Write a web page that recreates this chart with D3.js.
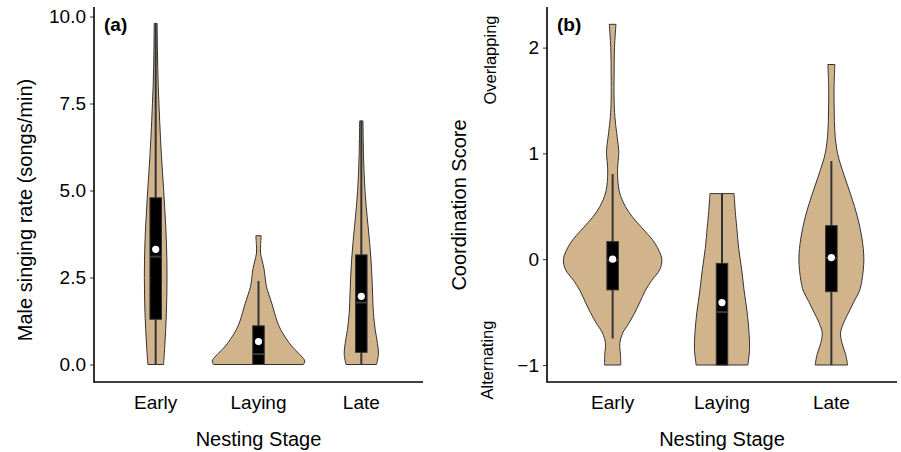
<!DOCTYPE html>
<html>
<head>
<meta charset="utf-8">
<script src="https://cdn.jsdelivr.net/npm/d3@7"></script>
<style>
  body { margin: 0; background: #fff; }
  svg { display: block; font-family: "Liberation Sans", Arial, sans-serif; }
</style>
</head>
<body>
<figure id="violins" style="margin:0"></figure>
<script>
// categories and tick labels
const stages = ["Early", "Laying", "Late"];
const rateTicks = [0, 2.5, 5, 7.5, 10];
const coordTicks = [-1, 0, 1, 2];

// violin outlines: [value, relative width]
const rateEarly = [[0, 0.17], [0.5, 0.195], [1.0, 0.216], [1.5, 0.232], [2.0, 0.241], [2.5, 0.245], [3.0, 0.242], [3.5, 0.232], [4.0, 0.216], [4.5, 0.195], [5.0, 0.173], [5.5, 0.148], [6.0, 0.124], [6.5, 0.104], [7.0, 0.086], [7.5, 0.07], [8.0, 0.055], [8.5, 0.045], [9.0, 0.038], [9.5, 0.034], [9.8, 0.032]];
const rateLaying = [[0, 0.97], [0.1, 1.0], [0.25, 0.92], [0.5, 0.735], [0.75, 0.595], [1.0, 0.48], [1.25, 0.40], [1.5, 0.343], [1.75, 0.289], [2.0, 0.227], [2.25, 0.17], [2.5, 0.144], [2.75, 0.119], [3.0, 0.076], [3.2, 0.043], [3.45, 0.046], [3.7, 0.057]];
const rateLate = [[0, 0.33], [0.3, 0.37], [0.6, 0.35], [1.0, 0.30], [1.5, 0.26], [2.0, 0.245], [2.5, 0.23], [3.0, 0.21], [3.5, 0.18], [4.0, 0.144], [4.5, 0.108], [5.0, 0.079], [5.5, 0.06], [6.0, 0.047], [6.5, 0.04], [7.0, 0.036]];

const coordEarly = [[-1.0, 0.165], [-0.9, 0.16], [-0.8, 0.145], [-0.7, 0.203], [-0.6, 0.338], [-0.5, 0.457], [-0.4, 0.56], [-0.3, 0.66], [-0.2, 0.795], [-0.1, 0.955], [0.0, 1.0], [0.15, 0.86], [0.3, 0.59], [0.4, 0.40], [0.5, 0.257], [0.6, 0.16], [0.7, 0.115], [0.85, 0.10], [1.0, 0.125], [1.05, 0.12], [1.2, 0.08], [1.35, 0.045], [1.5, 0.03], [1.75, 0.03], [2.0, 0.038], [2.22, 0.068]];
const coordLaying = [[-1.0, 0.525], [-0.85, 0.56], [-0.7, 0.55], [-0.5, 0.51], [-0.3, 0.45], [-0.1, 0.40], [0.1, 0.34], [0.3, 0.30], [0.45, 0.27], [0.55, 0.255], [0.62, 0.245]];
const coordLate = [[-1.0, 0.33], [-0.9, 0.29], [-0.8, 0.22], [-0.7, 0.185], [-0.6, 0.25], [-0.5, 0.355], [-0.4, 0.46], [-0.3, 0.57], [-0.2, 0.62], [0.0, 0.66], [0.2, 0.62], [0.4, 0.53], [0.6, 0.40], [0.8, 0.254], [1.0, 0.125], [1.2, 0.071], [1.4, 0.058], [1.6, 0.054], [1.84, 0.071]];

// box summaries, one value per stage
const rateQ1 = [1.30, 0, 0.35];
const rateMedian = [3.10, 0.30, 1.78];
const rateQ3 = [4.79, 1.11, 3.15];
const rateMean = [3.31, 0.66, 1.96];
const rateWhiskLo = [0, 0, 0];
const rateWhiskHi = [9.8, 2.40, 7.0];

const coordQ1 = [-0.29, -1.0, -0.307];
const coordMedian = [-0.01, -0.50, 0.01];
const coordQ3 = [0.166, -0.04, 0.317];
const coordMean = [0.0, -0.41, 0.015];
const coordWhiskLo = [-0.75, -1.0, -1.0];
const coordWhiskHi = [0.805, 0.62, 0.928];

const width = 901, height = 452;
const fill = "#d2b48c";

const svg = d3.select("figure#violins")
  .append("svg")
  .attr("width", width)
  .attr("height", height);

function drawPanel(p) {
  const g = svg.append("g");

  const x = d3.scalePoint()
    .domain(stages)
    .range([p.left, p.right])
    .padding(0.6);
  const w = d3.scaleLinear()
    .domain([0, 1])
    .range([0, 0.9 * x.step()]);
  const y = p.y;

  // violins
  p.violins.forEach((v, i) => {
    const cx = x(stages[i]);
    const area = d3.area()
      .y(d => y(d[0]))
      .x0(d => cx - w(d[1]) / 2)
      .x1(d => cx + w(d[1]) / 2)
      .curve(d3.curveCatmullRom.alpha(0.5));
    g.append("path")
      .attr("d", area(v))
      .attr("fill", fill)
      .attr("stroke", "#333")
      .attr("stroke-width", 1);
  });

  // boxplot inside each violin
  stages.forEach((s, i) => {
    const cx = x(s);
    const bw = 11.5;
    g.append("line")
      .attr("x1", cx).attr("x2", cx)
      .attr("y1", y(p.lo[i])).attr("y2", y(p.hi[i]))
      .attr("stroke", "#333").attr("stroke-width", 2);
    g.append("rect")
      .attr("x", cx - bw / 2)
      .attr("y", y(p.q3[i]))
      .attr("width", bw)
      .attr("height", y(p.q1[i]) - y(p.q3[i]))
      .attr("fill", "#000")
      .attr("stroke", "#333")
      .attr("stroke-width", 1);
    g.append("line")
      .attr("x1", cx - bw / 2).attr("x2", cx + bw / 2)
      .attr("y1", y(p.med[i])).attr("y2", y(p.med[i]))
      .attr("stroke", "#3a3a3a").attr("stroke-width", 2);
    g.append("circle")
      .attr("cx", cx).attr("cy", y(p.mean[i]))
      .attr("r", 3.6)
      .attr("fill", "#fff");
  });

  // axes
  const yAxis = g.append("g")
    .attr("transform", "translate(" + p.left + ",0)")
    .call(d3.axisLeft(y).tickValues(p.ticks).tickFormat(p.fmt).tickSize(4).tickPadding(4));
  yAxis.select(".domain").remove();
  yAxis.selectAll("line").attr("stroke", "#333");
  yAxis.selectAll("text")
    .attr("font-size", 19)
    .attr("fill", "#000")
    .attr("font-family", "Liberation Sans, Arial, sans-serif");

  g.append("line")
    .attr("x1", p.left).attr("x2", p.left)
    .attr("y1", p.top).attr("y2", p.bottom + 0.8)
    .attr("stroke", "#000").attr("stroke-width", 1.6);
  g.append("line")
    .attr("x1", p.left).attr("x2", p.right)
    .attr("y1", p.bottom).attr("y2", p.bottom)
    .attr("stroke", "#000").attr("stroke-width", 1.6);

  g.selectAll(".xlab")
    .data(stages)
    .enter()
    .append("text")
    .attr("x", d => x(d))
    .attr("y", 408.5)
    .attr("text-anchor", "middle")
    .attr("font-size", 19)
    .text(d => d);

  g.append("text")
    .attr("x", (p.left + p.right) / 2)
    .attr("y", 445.5)
    .attr("text-anchor", "middle")
    .attr("font-size", 20)
    .text("Nesting Stage");

  g.append("text")
    .attr("transform", "translate(" + p.titleX + "," + p.titleY + ")rotate(-90)")
    .attr("text-anchor", "middle")
    .attr("font-size", 20)
    .text(p.title);

  g.append("text")
    .attr("x", p.left + 10)
    .attr("y", 31)
    .attr("font-size", 19)
    .attr("font-weight", "bold")
    .text(p.tag);

  return g;
}

drawPanel({
  left: 94, right: 423, top: 7, bottom: 382,
  y: d3.scaleLinear().domain([0, 10]).range([364.5, 16.5]),
  ticks: rateTicks, fmt: d3.format(".1f"),
  violins: [rateEarly, rateLaying, rateLate],
  q1: rateQ1, med: rateMedian, q3: rateQ3, mean: rateMean, lo: rateWhiskLo, hi: rateWhiskHi,
  title: "Male singing rate (songs/min)", titleX: 32, titleY: 210,
  tag: "(a)"
});

const gb = drawPanel({
  left: 547, right: 897, top: 7, bottom: 382,
  y: d3.scaleLinear().domain([-1, 2]).range([365, 47.6]),
  ticks: coordTicks, fmt: d => d < 0 ? "\u2212" + Math.abs(d) : d,
  violins: [coordEarly, coordLaying, coordLate],
  q1: coordQ1, med: coordMedian, q3: coordQ3, mean: coordMean, lo: coordWhiskLo, hi: coordWhiskHi,
  title: "Coordination Score", titleX: 466, titleY: 205,
  tag: "(b)"
});

// end labels along the coordination axis
gb.append("text")
  .attr("transform", "translate(496,60)rotate(-90)")
  .attr("text-anchor", "middle")
  .attr("font-size", 16.5)
  .text("Overlapping");
gb.append("text")
  .attr("transform", "translate(493,360)rotate(-90)")
  .attr("text-anchor", "middle")
  .attr("font-size", 16.5)
  .text("Alternating");
</script>
</body>
</html>
